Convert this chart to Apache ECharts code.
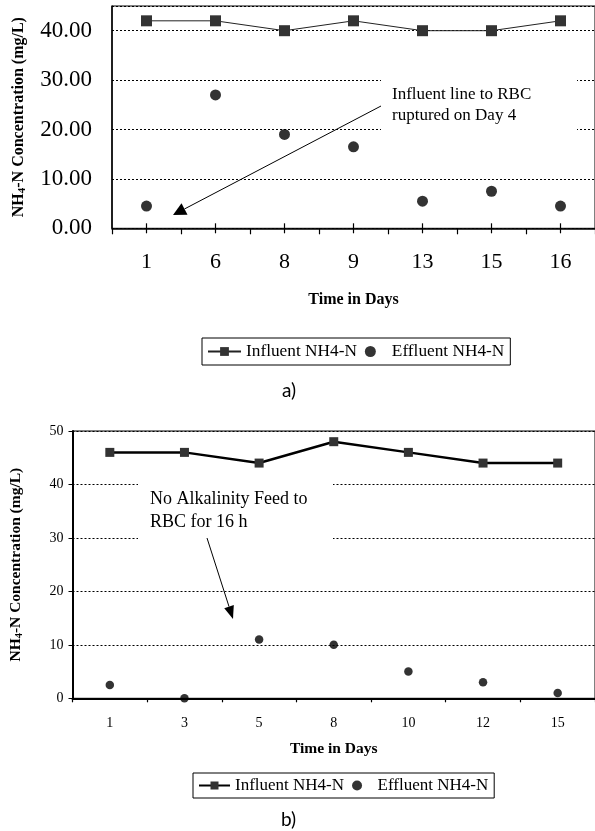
<!DOCTYPE html>
<html>
<head>
<meta charset="utf-8">
<script src="https://cdn.jsdelivr.net/npm/echarts@6/dist/echarts.min.js"></script>
<style>
  html, body { margin: 0; padding: 0; background: #fff; }
  #chart { width: 595px; height: 831px; }
</style>
</head>
<body>
<div id="chart"></div>
<script>
// panel a)
const daysA = ['1', '6', '8', '9', '13', '15', '16']
const influentA = [42, 42, 40, 42, 40, 40, 42]
const effluentA = [4.5, 27, 19, 16.5, 5.5, 7.5, 4.5]
const yMaxA = 45
const yStepA = 10

// panel b)
const daysB = ['1', '3', '5', '8', '10', '12', '15']
const influentB = [46, 46, 44, 48, 46, 44, 44]
const effluentB = [2.5, 0, 11, 10, 5, 3, 1]
const yMaxB = 50
const yStepB = 10

const serif = "'Liberation Serif', 'Times New Roman', serif"
const yName = '{t|NH}{s|4}{t|-N Concentration (mg/L)}'

function arrow(x1, y1, x2, y2, len, half) {
  // line from tail (x1,y1) to tip (x2,y2) with a filled head
  const dx = x2 - x1
  const dy = y2 - y1
  const d = Math.sqrt(dx * dx + dy * dy)
  const ux = dx / d
  const uy = dy / d
  const bx = x2 - ux * len
  const by = y2 - uy * len
  return [
    { type: 'line', z: 10, shape: { x1: x1, y1: y1, x2: bx, y2: by }, style: { stroke: '#000', lineWidth: 1 } },
    { type: 'polygon', z: 10, shape: { points: [[x2, y2], [bx - uy * half, by + ux * half], [bx + uy * half, by - ux * half]] }, style: { fill: '#000' } }
  ]
}

const chart = echarts.init(document.getElementById('chart'), null, { renderer: 'canvas' })

const option = {
  backgroundColor: '#fff',
  animation: false,
  grid: [
    { left: 112, top: 6, width: 491, height: 222.3, show: true, borderColor: '#000', borderWidth: 1 },
    { left: 72.3, top: 431, width: 536.7, height: 267.3, show: true, borderColor: '#000', borderWidth: 1 }
  ],
  legend: [
    {
      data: ['Influent NH4-N', 'Effluent NH4-N'],
      left: 202,
      top: 338,
      orient: 'horizontal',
      padding: [5, 6, 5, 5],
      itemWidth: 33,
      itemHeight: 11,
      itemGap: 8,
      borderColor: '#000',
      borderWidth: 1,
      textStyle: { fontFamily: serif, fontSize: 17.3, color: '#000' },
      formatter: name => name.trim()
    },
    {
      data: ['Influent NH4-N ', 'Effluent NH4-N '],
      left: 193,
      top: 773,
      orient: 'horizontal',
      padding: [4, 6, 4, 5],
      itemWidth: 31,
      itemHeight: 10,
      itemGap: 8,
      borderColor: '#000',
      borderWidth: 1,
      textStyle: { fontFamily: serif, fontSize: 17, color: '#000' },
      formatter: name => name.trim()
    }
  ],
  xAxis: [
    {
      gridIndex: 0,
      type: 'category',
      data: daysA,
      position: 'bottom',
      name: 'Time in Days',
      nameLocation: 'middle',
      nameGap: 64,
      nameTextStyle: { fontFamily: serif, fontSize: 16, fontWeight: 'bold', color: '#000' },
      axisLine: { lineStyle: { color: '#000', width: 1.5 } },
      axisTick: { show: true, interval: 0, alignWithLabel: false, length: 6, lineStyle: { color: '#000', width: 1.2 } },
      axisLabel: { fontFamily: serif, fontSize: 22, color: '#000', margin: 23, interval: 0 },
      splitLine: { show: false }
    },
    {
      gridIndex: 1,
      type: 'category',
      data: daysB,
      position: 'bottom',
      name: 'Time in Days',
      nameLocation: 'middle',
      nameGap: 43,
      nameTextStyle: { fontFamily: serif, fontSize: 15.5, fontWeight: 'bold', color: '#000' },
      axisLine: { lineStyle: { color: '#000', width: 2 } },
      axisTick: { show: true, interval: 0, alignWithLabel: false, length: 4, lineStyle: { color: '#000', width: 1.2 } },
      axisLabel: { fontFamily: serif, fontSize: 14, color: '#000', margin: 18, interval: 0 },
      splitLine: { show: false }
    }
  ],
  yAxis: [
    {
      gridIndex: 0,
      type: 'value',
      min: 0,
      max: yMaxA,
      interval: yStepA,
      name: yName,
      nameLocation: 'middle',
      nameRotate: 90,
      nameGap: 84,
      nameTextStyle: {
        rich: {
          t: { fontFamily: serif, fontSize: 16, fontWeight: 'bold', color: '#000', lineHeight: 18 },
          s: { fontFamily: serif, fontSize: 11, fontWeight: 'bold', color: '#000', lineHeight: 11, verticalAlign: 'bottom' }
        }
      },
      axisLine: { show: true, lineStyle: { color: '#000', width: 1.5 } },
      axisTick: { show: false },
      axisLabel: {
        fontFamily: serif, fontSize: 23, color: '#000', margin: 20, showMaxLabel: false,
        formatter: v => v.toFixed(2)
      },
      splitLine: { show: true, lineStyle: { color: '#000', type: [2, 2], width: 1 } }
    },
    {
      gridIndex: 1,
      type: 'value',
      min: 0,
      max: yMaxB,
      interval: yStepB,
      name: yName,
      nameLocation: 'middle',
      nameRotate: 90,
      nameGap: 48,
      nameTextStyle: {
        rich: {
          t: { fontFamily: serif, fontSize: 15.5, fontWeight: 'bold', color: '#000', lineHeight: 17 },
          s: { fontFamily: serif, fontSize: 10.5, fontWeight: 'bold', color: '#000', lineHeight: 10, verticalAlign: 'bottom' }
        }
      },
      axisLine: { show: true, lineStyle: { color: '#000', width: 2 } },
      axisTick: { show: true, length: 4, lineStyle: { color: '#000' } },
      axisLabel: { fontFamily: serif, fontSize: 14, color: '#000', margin: 9 },
      splitLine: { show: true, lineStyle: { color: '#000', type: [2, 2], width: 1 } }
    }
  ],
  series: [
    {
      // short ticks crossing the a) axis at each day
      type: 'custom',
      xAxisIndex: 0,
      yAxisIndex: 0,
      data: daysA.map(d => [d, 0]),
      encode: { x: 0, y: 1 },
      silent: true,
      clip: false,
      z: 4,
      renderItem: function(params, api) {
        const p = api.coord([api.value(0), api.value(1)])
        return {
          type: 'line',
          shape: { x1: p[0], y1: p[1] - 5, x2: p[0], y2: p[1] + 5 },
          style: { stroke: '#000', lineWidth: 1.2 }
        }
      }
    },
    {
      name: 'Influent NH4-N',
      type: 'line',
      xAxisIndex: 0,
      yAxisIndex: 0,
      data: influentA,
      symbol: 'rect',
      symbolSize: 11,
      itemStyle: { color: '#333' },
      lineStyle: { color: '#222', width: 1 },
      z: 3
    },
    {
      name: 'Effluent NH4-N',
      type: 'scatter',
      xAxisIndex: 0,
      yAxisIndex: 0,
      data: effluentA,
      symbol: 'circle',
      symbolSize: 11,
      itemStyle: { color: '#000' },
      z: 3
    },
    {
      name: 'Influent NH4-N ',
      type: 'line',
      xAxisIndex: 1,
      yAxisIndex: 1,
      data: influentB,
      symbol: 'rect',
      symbolSize: 9,
      itemStyle: { color: '#333' },
      lineStyle: { color: '#000', width: 2.5 },
      z: 3
    },
    {
      name: 'Effluent NH4-N ',
      type: 'scatter',
      xAxisIndex: 1,
      yAxisIndex: 1,
      data: effluentB,
      symbol: 'circle',
      symbolSize: 8.5,
      itemStyle: { color: '#000' },
      z: 3
    }
  ],
  graphic: [
    // white boxes behind the notes (they break the grid lines)
    { type: 'rect', z: 1, shape: { x: 381, y: 72, width: 196, height: 66 }, style: { fill: '#fff' } },
    { type: 'rect', z: 1, shape: { x: 138, y: 468, width: 195, height: 90 }, style: { fill: '#fff' } },
    {
      type: 'text', z: 10, left: 392, top: 84,
      style: { text: 'Influent line to RBC\nruptured on Day 4', font: '17px ' + serif, fill: '#000', lineHeight: 21 }
    },
    {
      type: 'text', z: 10, left: 150, top: 488,
      style: { text: 'No Alkalinity Feed to\nRBC for 16 h', font: '18px ' + serif, fill: '#000', lineHeight: 23 }
    },
    ...arrow(381, 106, 173, 215, 13, 6.5),
    ...arrow(207, 538, 233, 619, 13, 5),
    {
      type: 'text', z: 10, left: 282, top: 381,
      style: { text: 'a)', font: "19px Lato, 'DejaVu Sans', sans-serif", fill: '#000' }
    },
    {
      type: 'text', z: 10, left: 281, top: 810,
      style: { text: 'b)', font: "19px Lato, 'DejaVu Sans', sans-serif", fill: '#000' }
    }
  ]
}

chart.setOption(option)
</script>
</body>
</html>
